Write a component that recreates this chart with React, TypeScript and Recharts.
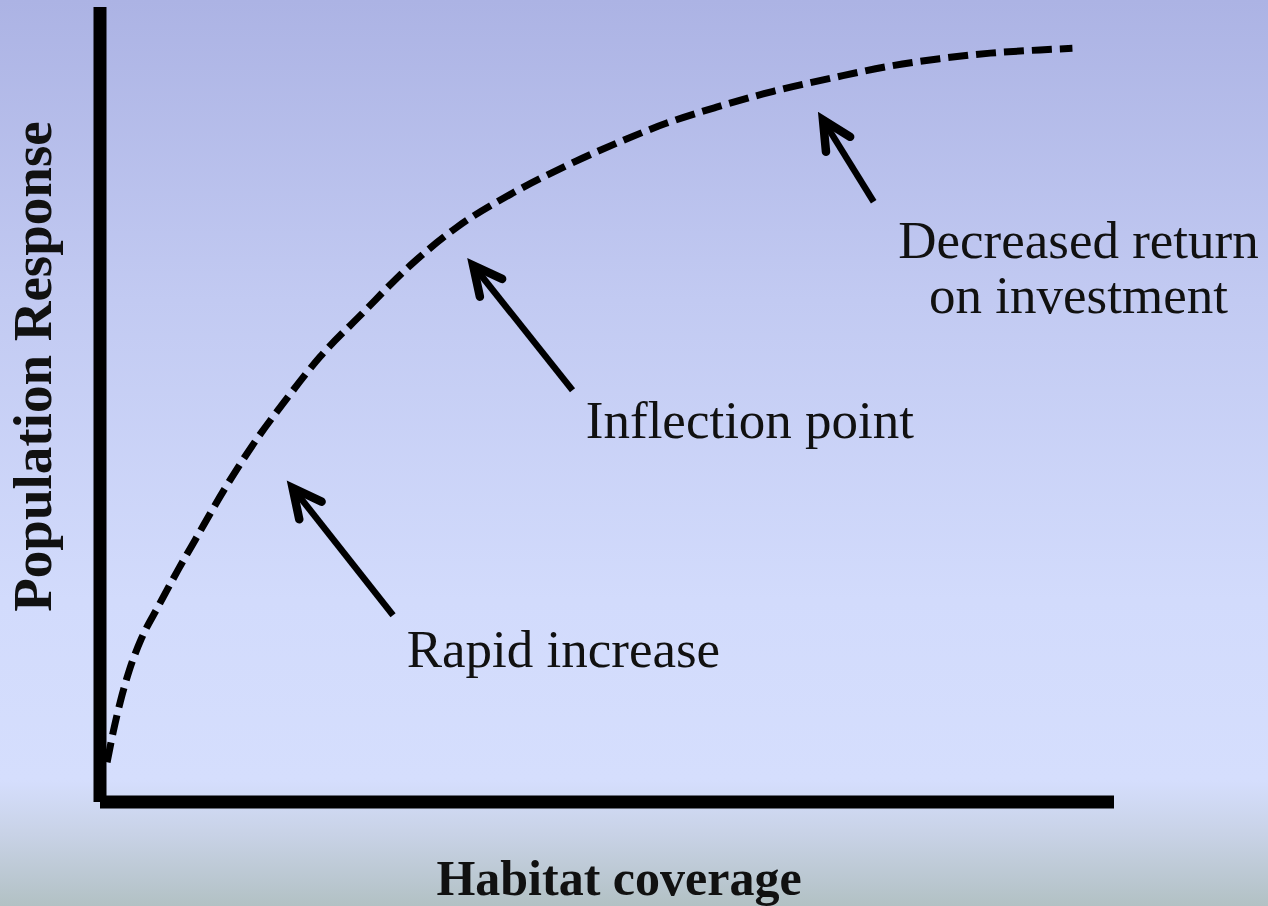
import { ComposedChart, Line, ReferenceLine, Scatter, XAxis, YAxis } from 'recharts';

// habitat coverage (0-100) vs population response (0-100)
const coverage = [0.7, 1.3, 2.0, 2.9, 4.1, 5.7, 7.7, 9.4, 12.3, 15.6, 17.8, 21.7, 25.9, 30.6, 35.2, 40.7, 46.1, 51.0, 55.9, 60.8, 66.4, 72.3, 77.6, 82.8, 87.8, 92.7, 95.9];
const response = [5.0, 8.8, 12.6, 16.6, 20.6, 24.5, 29.2, 33.0, 39.4, 45.9, 49.7, 56.0, 61.5, 67.5, 72.3, 76.6, 80.1, 82.9, 85.4, 87.4, 89.4, 91.1, 92.5, 93.5, 94.2, 94.6, 94.8];

// arrows: tail -> tip
const arrowTails = [[28.9, 23.5], [46.6, 51.8], [76.3, 75.5]];
const arrowTips = [[19.0, 39.5], [36.8, 67.5], [71.3, 85.8]];

// annotation text, anchored at centre of first baseline
const noteText = [['Rapid increase'], ['Inflection point'], ['Decreased return', 'on investment']];
const notePos = [[45.7, 17.0], [64.1, 45.8], [96.5, 68.4]];

const curve = coverage.map((x, i) => ({ x, y: response[i] }));
const notes = notePos.map(([x, y], i) => ({ x, y, lines: noteText[i] }));

const SERIF = "'Palatino Linotype', 'Book Antiqua', Palatino, 'Liberation Serif', serif";

function Arrow(props: any) {
  const { x1, y1, x2, y2 } = props;
  const ang = Math.atan2(y1 - y2, x1 - x2);
  const len = 32;
  const spread = 0.46;
  const ax = x2 + len * Math.cos(ang + spread);
  const ay = y2 + len * Math.sin(ang + spread);
  const bx = x2 + len * Math.cos(ang - spread);
  const by = y2 + len * Math.sin(ang - spread);
  return (
    <g>
      <line x1={x1} y1={y1} x2={x2} y2={y2} stroke="#000" strokeWidth={6.5} />
      <polyline
        points={`${ax},${ay} ${x2},${y2} ${bx},${by}`}
        fill="none"
        stroke="#000"
        strokeWidth={8.5}
        strokeLinecap="round"
        strokeLinejoin="miter"
      />
    </g>
  );
}

function Note(props: any) {
  const { cx, cy, payload } = props;
  return (
    <text x={cx} y={cy} textAnchor="middle" fontFamily={SERIF} fontSize={53} fill="#111">
      {payload.lines.map((t: string, i: number) => (
        <tspan key={t} x={cx} dy={i === 0 ? 0 : 55}>{t}</tspan>
      ))}
    </text>
  );
}

function YTitle(props: any) {
  const vb = props.viewBox ?? { x: 0, y: 7, width: 100, height: 795 };
  const cx = vb.x + 51;
  const cy = vb.y + vb.height / 2 - 38;
  return (
    <text
      x={cx}
      y={cy}
      transform={`rotate(-90, ${cx}, ${cy})`}
      textAnchor="middle"
      fontFamily={SERIF}
      fontWeight="bold"
      fontSize={55}
      fill="#111"
    >
      Population Response
    </text>
  );
}

function XTitle(props: any) {
  const vb = props.viewBox ?? { x: 100, y: 802, width: 1014, height: 104 };
  const cx = vb.x + vb.width / 2 + 12;
  const cy = vb.y + 93;
  return (
    <text x={cx} y={cy} textAnchor="middle" fontFamily={SERIF} fontWeight="bold" fontSize={50} fill="#111">
      Habitat coverage
    </text>
  );
}

export default function App() {
  return (
    <div
      style={{
        position: 'absolute',
        left: 0,
        top: 0,
        width: 1268,
        height: 906,
        background:
          'linear-gradient(to bottom, #acb3e4 0px, #c2caf2 300px, #d2dbfc 600px, #d5defd 780px, #c8d2e6 835px, #b2c1c4 906px)',
      }}
    >
      <ComposedChart width={1268} height={906} margin={{ top: 7, right: 154, bottom: 0, left: 0 }}>
        <XAxis
          type="number"
          dataKey="x"
          domain={[0, 100]}
          height={104}
          tick={false}
          tickLine={false}
          axisLine={{ stroke: '#000', strokeWidth: 13 }}
          label={{ content: XTitle }}
        />
        <YAxis
          type="number"
          domain={[0, 100]}
          width={100}
          tick={false}
          tickLine={false}
          axisLine={{ stroke: '#000', strokeWidth: 13 }}
          label={{ content: YTitle }}
        />
        <Line
          data={curve}
          dataKey="y"
          type="monotone"
          stroke="#000"
          strokeWidth={7}
          strokeDasharray="20 8"
          dot={false}
          activeDot={false}
          isAnimationActive={false}
        />
        {arrowTails.map((t, i) => (
          <ReferenceLine
            key={i}
            segment={[{ x: t[0], y: t[1] }, { x: arrowTips[i][0], y: arrowTips[i][1] }]}
            shape={Arrow}
          />
        ))}
        <Scatter data={notes} dataKey="y" shape={Note} isAnimationActive={false} />
      </ComposedChart>
    </div>
  );
}
